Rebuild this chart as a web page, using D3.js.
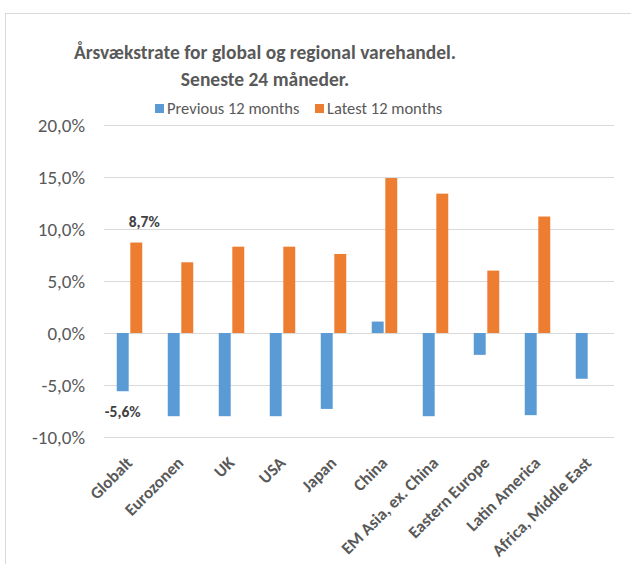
<!DOCTYPE html>
<html>
<head>
<meta charset="utf-8">
<script src="https://cdn.jsdelivr.net/npm/d3@7"></script>
<style>
  body { margin: 0; background: #fff; }
  svg { font-family: Carlito, "Open Sans", sans-serif; }
</style>
</head>
<body>
<svg id="chart" width="631" height="564"></svg>
<script>
// chart data
var categories = ["Globalt", "Eurozonen", "UK", "USA", "Japan", "China",
  "EM Asia, ex. China", "Eastern Europe", "Latin America", "Africa, Middle East"];
var seriesNames = ["Previous 12 months", "Latest 12 months"];
var previous = [-5.6, -8.0, -8.0, -8.0, -7.3, 1.1, -8.0, -2.1, -7.9, -4.4];
var latest = [8.7, 6.8, 8.3, 8.3, 7.6, 14.9, 13.4, 6.0, 11.2, null];
var yTicks = [-10, -5, 0, 5, 10, 15, 20];
var colors = ["#5b9bd5", "#ed7d31"];

var svg = d3.select("#chart");
var fmt = function(v) { return d3.format(".1f")(v).replace(".", ",").replace("−", "-") + "%"; };

// outer frame
svg.append("rect")
  .attr("x", 5.5).attr("y", 13.5)
  .attr("width", 640).attr("height", 600)
  .attr("fill", "none").attr("stroke", "#d9d9d9");

// title
var title = svg.append("text")
  .attr("text-anchor", "middle")
  .attr("fill", "#595959")
  .style("font-size", "19.5px")
  .style("font-weight", "bold");
title.append("tspan").attr("x", 265).attr("y", 59).text("Årsvækstrate for global og regional varehandel.");
title.append("tspan").attr("x", 265).attr("y", 86).text("Seneste 24 måneder.");

var y = d3.scaleLinear().domain([-10, 20]).range([437, 125]);
var x = d3.scaleBand().domain(categories).range([104, 614])
  .paddingInner(0.5).paddingOuter(0.25);
var x1 = d3.scaleBand().domain([0, 1]).range([0, x.bandwidth()]).paddingInner(0.12);

// gridlines
svg.append("g").selectAll("line").data(yTicks).join("line")
  .attr("x1", 104).attr("x2", 614)
  .attr("y1", function(d) { return Math.round(y(d)) + 0.5; })
  .attr("y2", function(d) { return Math.round(y(d)) + 0.5; })
  .attr("stroke", "#d9d9d9").attr("stroke-width", 1);

// y axis labels
var yAxis = svg.append("g")
  .attr("transform", "translate(104,0)")
  .call(d3.axisLeft(y).tickValues(yTicks).tickFormat(function(d) { return fmt(d); }).tickSize(0).tickPadding(19));
yAxis.select(".domain").remove();
yAxis.selectAll("text")
  .attr("fill", "#595959")
  .style("font-size", "19px")
  .style("font-family", "Carlito, 'Open Sans', sans-serif");

// bars
var series = [previous, latest];
series.forEach(function(vals, s) {
  svg.append("g").selectAll("rect")
    .data(vals.map(function(v, i) { return { cat: categories[i], v: v }; })
      .filter(function(d) { return d.v !== null; }))
    .join("rect")
    .attr("x", function(d) { return x(d.cat) + x1(s); })
    .attr("width", x1.bandwidth())
    .attr("y", function(d) { return y(Math.max(0, d.v)); })
    .attr("height", function(d) { return Math.abs(y(d.v) - y(0)); })
    .attr("fill", colors[s]);
});

// data labels for Globalt
svg.append("text")
  .attr("x", x("Globalt") + x1(1) + x1.bandwidth() / 2 + 8)
  .attr("y", y(latest[0]) - 16)
  .attr("text-anchor", "middle")
  .attr("fill", "#404040")
  .style("font-size", "15.5px").style("font-weight", "bold")
  .text(fmt(latest[0]));
svg.append("text")
  .attr("x", x("Globalt") + x1(0) + x1.bandwidth() / 2)
  .attr("y", y(previous[0]) + 26)
  .attr("text-anchor", "middle")
  .attr("fill", "#404040")
  .style("font-size", "15.5px").style("font-weight", "bold")
  .text(fmt(previous[0]));

// x axis labels
var xAxis = svg.append("g")
  .attr("transform", "translate(0,437)")
  .call(d3.axisBottom(x).tickSize(0).tickPadding(0));
xAxis.select(".domain").remove();
xAxis.selectAll("text")
  .attr("text-anchor", "end")
  .attr("y", 0)
  .attr("dy", 0)
  .attr("transform", "translate(4,27) rotate(-45)")
  .attr("fill", "#595959")
  .style("font-size", "17px").style("font-weight", "bold")
  .style("font-family", "Carlito, 'Open Sans', sans-serif");

// legend
var legend = svg.append("g");
var legendX = [155, 315];
seriesNames.forEach(function(name, i) {
  legend.append("rect")
    .attr("x", legendX[i]).attr("y", 104)
    .attr("width", 9).attr("height", 9)
    .attr("fill", colors[i]);
  legend.append("text")
    .attr("x", legendX[i] + 12).attr("y", 114)
    .attr("fill", "#595959")
    .style("font-size", "16.5px")
    .text(name);
});
</script>
</body>
</html>
